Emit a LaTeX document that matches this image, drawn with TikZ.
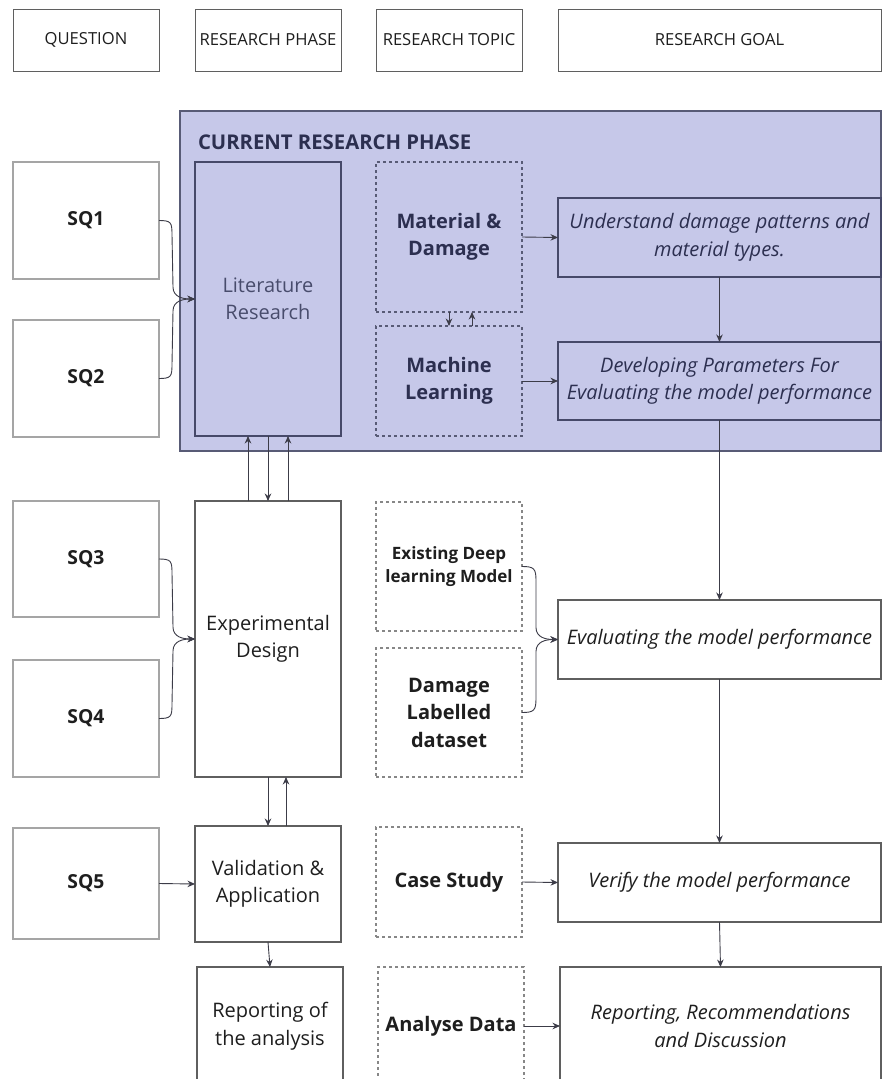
\documentclass[tikz,border=0pt]{standalone}
\usepackage{fontspec}
\setmainfont{Open Sans}
\usetikzlibrary{arrows.meta,calc}
\definecolor{pfill}{RGB}{198,200,233}
\definecolor{pline}{RGB}{88,91,118}
\definecolor{litline}{RGB}{70,73,105}
\definecolor{navy}{RGB}{44,47,80}
\definecolor{littext}{RGB}{72,76,108}
\definecolor{txt}{RGB}{30,30,30}
\definecolor{bline}{RGB}{95,95,95}
\definecolor{lgray}{RGB}{165,165,165}
\definecolor{dgray}{RGB}{135,135,135}
\definecolor{arrc}{RGB}{60,60,72}
\tikzset{
  sz/.style n args={2}{minimum width=#1pt, minimum height=#2pt},
  base/.style={inner sep=2pt, outer sep=0pt, align=center, anchor=north west, text=txt},
  hdr/.style={base, draw=bline, line width=1pt, font=\fontsize{16.6}{22}\selectfont},
  sqbox/.style={base, draw=lgray, line width=1.3pt, font=\bfseries\fontsize{19.3}{26}\selectfont},
  phase/.style={base, draw=bline, line width=1.1pt, font=\fontsize{20}{27.5}\selectfont},
  topic/.style={base, draw=dgray, dash pattern=on 3pt off 3pt, line width=1.1pt, font=\bfseries\fontsize{20}{27.5}\selectfont},
  goal/.style={base, draw=bline, line width=1.1pt, font=\itshape\fontsize{20}{27.5}\selectfont},
  arr/.style={-{Stealth[length=7.5pt,width=6.5pt]}, line width=0.9pt, draw=arrc},
}
\begin{document}
\begin{tikzpicture}[x=1pt,y=-1pt]
\clip (0,0) rectangle (882,1079);
\fill[white] (0,0) rectangle (882,1079);

% headers
\node[hdr, sz={146}{62}] (hq) at (13,9) {QUESTION};
\node[hdr, sz={146}{62}] (hp) at (195,9) {RESEARCH PHASE};
\node[hdr, sz={146}{62}] (ht) at (376,9) {RESEARCH TOPIC};
\node[hdr, sz={323}{62}] (hg) at (558,9) {RESEARCH GOAL};

% current research phase region
\node[base, sz={701}{340}, fill=pfill, draw=pline, line width=1.3pt] (cur) at (180,111) {};
\node[base, anchor=west, text=navy, font=\bfseries\fontsize{20.3}{26}\selectfont, inner sep=0pt] (title) at (198,142) {CURRENT RESEARCH PHASE};

% row 1
\node[sqbox, sz={146}{117}] (sq1) at (13,162) {SQ1};
\node[sqbox, sz={146}{117}] (sq2) at (13,320) {SQ2};
\node[phase, sz={146}{274}, fill=pfill, draw=litline, text=littext] (lit) at (195,162) {Literature\\Research};
\node[topic, sz={146}{150}, draw=pline, text=navy] (mat) at (376,162) {Material \&\\Damage};
\node[topic, sz={146}{110}, draw=pline, text=navy] (ml) at (376,326) {Machine\\Learning};
\node[goal, sz={323}{79}, draw=litline, text=navy] (und) at (558,198) {Understand damage patterns and\\material types.};
\node[goal, sz={323}{78}, draw=litline, text=navy] (dev) at (558,342) {Developing Parameters For\\Evaluating the model performance};

% row 2
\node[sqbox, sz={146}{116}] (sq3) at (13,501) {SQ3};
\node[sqbox, sz={146}{117}] (sq4) at (13,660) {SQ4};
\node[phase, sz={146}{276}] (exp) at (195,501) {Experimental\\Design};
\node[topic, sz={146}{129}, font=\bfseries\fontsize{17}{23.5}\selectfont] (ex) at (376,502) {Existing Deep\\learning Model};
\node[topic, sz={146}{129}] (dl) at (376,648) {Damage\\Labelled\\dataset};
\node[goal, sz={323}{79}] (ev) at (558,600) {Evaluating the model performance};

% row 3
\node[sqbox, sz={146}{111}] (sq5) at (13,828) {SQ5};
\node[phase, sz={146}{116}] (val) at (195,826) {Validation \&\\Application};
\node[topic, sz={146}{110}] (cs) at (376,827) {Case Study};
\node[goal, sz={323}{79}] (ver) at (558,843) {Verify the model performance};

% row 4
\node[phase, sz={146}{118}] (rep) at (197,967) {Reporting of\\the analysis};
\node[topic, sz={146}{118}] (ad) at (378,967) {Analyse Data};
\node[goal, sz={321}{118}] (rcd) at (560,967) {Reporting, Recommendations\\and Discussion};

% braces
\draw[arr] (sq1.east) .. controls +(12,0) and +(0,-12) .. ++(13,14) -- ($(lit.west)+(-22,-12)$) .. controls +(0,10) and +(-12,0) .. (lit.west);
\draw[arr] (sq2.east) .. controls +(12,0) and +(0,12) .. ++(13,-14) -- ($(lit.west)+(-22,12)$) .. controls +(0,-10) and +(-12,0) .. (lit.west);
\draw[arr] (sq3.east) .. controls +(12,0) and +(0,-12) .. ++(13,14) -- ($(exp.west)+(-22,-12)$) .. controls +(0,10) and +(-12,0) .. (exp.west);
\draw[arr] (sq4.east) .. controls +(12,0) and +(0,12) .. ++(13,-14) -- ($(exp.west)+(-22,12)$) .. controls +(0,-10) and +(-12,0) .. (exp.west);
\draw[arr] (ex.east) .. controls +(12,0) and +(0,-12) .. ++(14,14) -- ($(ev.west)+(-22,-12)$) .. controls +(0,10) and +(-12,0) .. (ev.west);
\draw[arr] (dl.east) .. controls +(12,0) and +(0,12) .. ++(14,-14) -- ($(ev.west)+(-22,12)$) .. controls +(0,-10) and +(-12,0) .. (ev.west);

% topic <-> topic
\draw[arr] (mat.south) -- (ml.north);
\draw[arr] ($(ml.north)+(23,0)$) -- ($(mat.south)+(23,0)$);

% topic -> goal
\draw[arr] (mat.east) -- (und.west);
\draw[arr] (ml.east) -- (dev.west);
\draw[arr] (cs.east) -- (ver.west);
\draw[arr] (ad.east) -- (rcd.west);
\draw[arr] (sq5.east) -- (val.west);

% goal chain
\draw[arr] (und.south) -- (dev.north);
\draw[arr] (dev.south) -- (ev.north);
\draw[arr] (ev.south) -- (ver.north);
\draw[arr] (ver.south) -- (rcd.north);

% phase chain
\draw[arr] ($(exp.north)+(-20,0)$) -- ($(lit.south)+(-20,0)$);
\draw[arr] (lit.south) -- (exp.north);
\draw[arr] ($(exp.north)+(20,0)$) -- ($(lit.south)+(20,0)$);
\draw[arr] (exp.south) -- (val.north);
\draw[arr] ($(val.north)+(18,0)$) -- ($(exp.south)+(18,0)$);
\draw[arr] (val.south) -- (rep.north);
\end{tikzpicture}
\end{document}
